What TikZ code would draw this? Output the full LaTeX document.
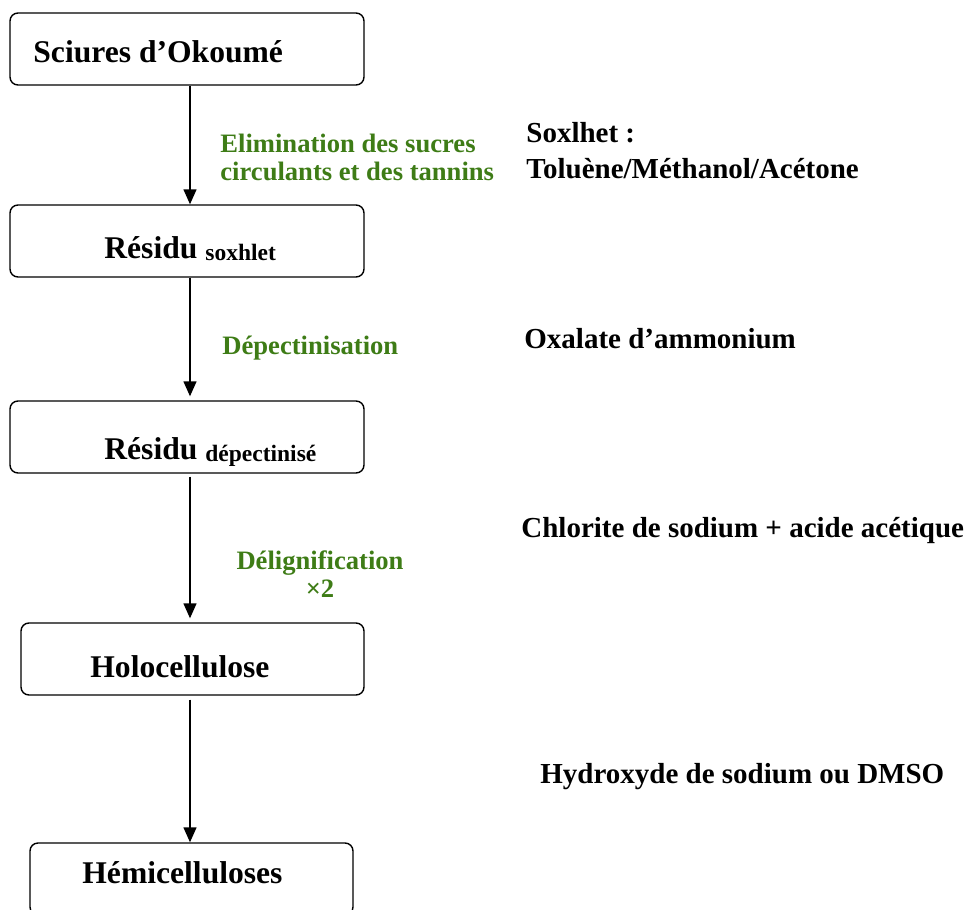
\documentclass[tikz,border=0pt]{standalone}
\usepackage{fontspec}
\setmainfont{Liberation Serif}
\usetikzlibrary{arrows.meta}
\definecolor{stepgreen}{RGB}{62,124,22}
\newcommand{\subtxt}{\fontsize{11.75}{14}\selectfont}

\begin{document}
\begin{tikzpicture}[x=0.5pt, y=-0.5pt,
    box/.style={draw, rounded corners=4pt, line width=0.7pt, minimum width=177pt, minimum height=36pt, inner sep=0pt},
    boxtxt/.style={anchor=base west, inner sep=0pt, font=\fontsize{15.8}{18}\selectfont\bfseries},
    steptxt/.style={anchor=base west, inner sep=0pt, align=left, text=stepgreen, font=\fontsize{13.3}{14}\selectfont\bfseries},
    reagent/.style={anchor=base west, inner sep=0pt, align=left, font=\fontsize{14.5}{18}\selectfont\bfseries},
    arr/.style={-{Triangle[width=6.5pt,length=7.5pt]}, line width=0.7pt}
  ]
  \clip (0,0) rectangle (969,910);

  % products
  \node[box] (sciures) at (187,49) {};
  \node[boxtxt] (sciurestxt) at (33,62) {Sciures d’Okoumé};
  \node[box] (soxhlet) at (187,241) {};
  \node[boxtxt] (soxhlettxt) at (104,258) {Résidu \raisebox{-1pt}{\subtxt soxhlet}};
  \node[box] (depect) at (187,437) {};
  \node[boxtxt] (depecttxt) at (104,459) {Résidu \raisebox{-1pt}{\subtxt dépectinisé}};
  \node[box, minimum width=171.5pt] (holo) at (192.5,659) {};
  \node[boxtxt] (holotxt) at (90,677) {Holocellulose};
  \node[box, minimum width=161.5pt] (hemi) at (191.5,879) {};
  \node[boxtxt] (hemitxt) at (82,883) {Hémicelluloses};

  % steps (base = last line)
  \node[steptxt] (elim) at (220,180) {Elimination des sucres\\circulants et des tannins};
  \node[steptxt] (depectin) at (222,354) {Dépectinisation};
  \node[steptxt, align=center, anchor=base] (delig) at (320,597) {Délignification\\×2};

  % reagents
  \node[reagent] (soxh) at (526,178) {Soxlhet :\\Toluène/Méthanol/Acétone};
  \node[reagent] (oxal) at (524,348) {Oxalate d’ammonium};
  \node[reagent] (chlor) at (521,537) {Chlorite de sodium + acide acétique};
  \node[reagent] (hydrox) at (540,783) {Hydroxyde de sodium ou DMSO};

  \coordinate (axis) at (190,0);
  \draw[arr] (sciures.south -| axis) -- (soxhlet.north -| axis);
  \draw[arr, shorten >=2pt] (soxhlet.south -| axis) -- (depect.north -| axis);
  \draw[arr, shorten <=1.5pt, shorten >=2pt] (depect.south -| axis) -- (holo.north -| axis);
  \draw[arr, shorten <=2pt] (holo.south -| axis) -- (hemi.north -| axis);
\end{tikzpicture}
\end{document}
